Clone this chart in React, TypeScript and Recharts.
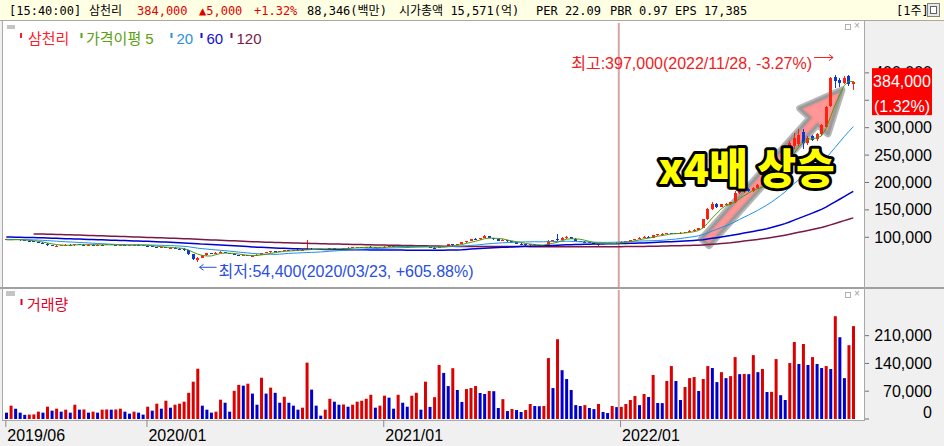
import React from 'react';
import { ComposedChart, Bar, Line, XAxis, YAxis, ReferenceLine, ReferenceDot, Cell } from 'recharts';

// ---------- data (prices in 천원, volume in 천주) ----------
const PRIOR_CLOSE = [
  108, 109, 110, 111, 112, 111, 113, 114, 115, 116,
  117, 118, 117, 119, 120, 121, 120, 119, 121, 122,
  121, 120, 119, 118, 117, 118, 116, 115, 116, 114,
  113, 114, 112, 113, 111, 112, 110, 111, 113, 112,
  114, 113, 112, 110, 111, 109, 110, 108, 109, 107,
  108, 106, 107, 105, 105, 104, 106, 105, 104, 103,
  105, 104, 103, 104, 103, 102, 104, 103, 102, 101,
  103, 102, 104, 103, 102, 103, 101, 102, 103, 104,
  102, 101, 102, 103, 102, 101, 103, 102, 100, 101,
  102, 100, 101, 99, 98, 99, 97, 98, 97, 96,
  98, 97, 96, 95, 96, 97, 95, 96, 95, 96,
  94, 95, 96,
];

const OPEN = [
  95.0, 96.0, 95.0, 96.0, 94.5, 94.0, 93.0, 91.5, 90.0, 88.5,
  85.5, 84.0, 84.5, 85.5, 86.5, 85.5, 88.0, 86.5, 86.0, 86.5,
  85.5, 86.5, 86.0, 87.0, 86.0, 85.5, 86.5, 85.5, 86.0, 86.5,
  85.5, 85.0, 84.0, 82.5, 81.5, 82.0, 80.5, 81.0, 79.5, 79.0,
  76.5, 69.5, 59.0, 62.5, 67.0, 71.0, 69.5, 71.5, 73.0, 71.0,
  69.5, 67.5, 66.0, 67.5, 65.5, 66.5, 68.5, 71.0, 72.5, 74.5,
  73.0, 75.0, 76.5, 75.5, 77.0, 76.5, 77.5, 79.0, 78.0, 78.5,
  79.0, 78.0, 80.0, 79.0, 78.5, 80.0, 81.0, 81.5, 82.5, 81.5,
  82.5, 81.5, 81.0, 82.0, 83.0, 84.0, 83.0, 84.0, 83.0, 82.5,
  83.5, 84.5, 83.5, 82.5, 81.0, 80.5, 84.0, 82.5, 87.0, 86.0,
  87.5, 90.5, 93.0, 96.5, 96.0, 98.5, 102.5, 99.0, 96.0, 93.5,
  95.0, 92.5, 90.5, 88.5, 87.0, 85.5, 87.0, 86.0, 85.0, 86.5,
  93.5, 96.0, 95.0, 99.5, 100.0, 97.5, 93.5, 92.0, 90.5, 89.5,
  87.0, 88.0, 89.0, 88.0, 89.5, 90.0, 92.0, 93.5, 95.0, 97.0,
  99.5, 101.0, 99.5, 104.0, 105.5, 106.0, 107.5, 107.0, 106.5, 108.5,
  110.0, 112.0, 114.0, 117.0, 133.0, 151.0, 161.0, 156.0, 159.0, 160.0,
  164.0, 181.0, 185.0, 188.0, 184.5, 189.5, 195.0, 201.0, 204.0, 215.0,
  229.0, 232.0, 252.0, 266.0, 270.0, 292.0, 272.0, 285.0, 280.0, 288.0,
  302.0, 340.0, 392.0, 387.0, 381.0, 394.0, 380.0,
];

const HIGH = [
  96.5, 97.0, 96.5, 96.5, 95.0, 94.5, 93.5, 92.0, 90.5, 89.0,
  86.5, 85.5, 86.0, 87.0, 87.0, 88.5, 88.5, 87.0, 87.0, 87.0,
  87.0, 87.0, 87.5, 87.5, 86.5, 87.0, 87.0, 86.5, 87.0, 87.0,
  86.0, 85.5, 84.5, 83.0, 82.5, 82.5, 81.5, 81.5, 80.5, 80.0,
  77.0, 70.0, 63.5, 68.0, 72.0, 72.0, 72.5, 74.5, 73.5, 71.5,
  70.0, 68.0, 68.5, 68.0, 67.0, 69.0, 72.0, 73.0, 75.0, 75.0,
  75.5, 77.0, 77.0, 77.5, 78.0, 78.0, 95.0, 80.0, 79.0, 79.5,
  79.5, 80.5, 80.5, 79.5, 80.5, 81.5, 82.0, 83.0, 83.0, 83.0,
  83.5, 82.0, 82.5, 83.5, 84.5, 84.5, 84.5, 84.5, 83.5, 84.0,
  85.0, 85.0, 84.0, 83.0, 82.5, 84.5, 85.0, 87.5, 88.5, 88.0,
  91.0, 93.5, 97.0, 99.5, 99.0, 104.0, 103.0, 99.5, 96.5, 96.0,
  95.5, 93.0, 91.0, 89.0, 88.0, 87.5, 87.5, 86.5, 86.5, 95.0,
  95.5, 106.5, 100.5, 103.0, 101.0, 98.0, 94.0, 92.5, 91.0, 90.0,
  88.5, 89.5, 89.5, 90.0, 90.5, 92.5, 94.0, 95.5, 97.5, 100.0,
  101.5, 102.5, 104.5, 106.0, 107.0, 108.0, 108.5, 108.0, 109.0, 110.5,
  112.5, 114.5, 117.5, 134.0, 153.0, 165.0, 163.0, 161.0, 162.0, 164.0,
  184.0, 188.0, 190.0, 190.0, 192.0, 197.0, 204.0, 208.0, 217.0, 232.0,
  236.0, 252.0, 276.0, 291.0, 298.0, 298.0, 284.0, 287.0, 290.0, 307.0,
  340.0, 393.0, 397.0, 390.0, 394.0, 396.0, 386.0,
];

const LOW = [
  94.5, 94.5, 94.5, 94.0, 93.5, 92.5, 91.0, 89.5, 88.0, 84.5,
  84.0, 83.5, 84.0, 85.0, 85.0, 85.0, 86.0, 85.5, 85.5, 85.0,
  85.0, 85.5, 85.5, 85.5, 85.0, 85.0, 85.0, 85.0, 85.5, 85.0,
  84.5, 83.5, 82.0, 81.0, 80.5, 80.0, 79.5, 79.0, 78.0, 75.5,
  68.0, 58.0, 54.4, 61.5, 66.5, 69.0, 69.0, 71.0, 70.5, 69.0,
  67.0, 65.0, 65.5, 65.0, 64.5, 66.0, 68.0, 70.5, 72.0, 72.5,
  72.5, 74.5, 75.0, 75.0, 76.0, 76.0, 77.0, 77.5, 77.0, 78.0,
  77.5, 77.5, 78.5, 78.0, 78.0, 79.5, 80.5, 81.0, 81.0, 81.0,
  81.0, 80.5, 80.5, 81.5, 82.5, 82.5, 82.5, 82.5, 82.0, 82.0,
  83.0, 83.0, 82.0, 80.5, 80.0, 80.0, 82.0, 82.0, 85.0, 85.5,
  87.0, 90.0, 92.5, 95.0, 95.5, 98.0, 98.5, 95.5, 93.0, 93.0,
  92.0, 90.0, 88.0, 86.5, 85.0, 85.0, 85.5, 84.5, 84.5, 86.0,
  92.0, 94.0, 94.5, 97.0, 97.0, 93.0, 91.5, 90.0, 89.0, 87.0,
  84.5, 87.0, 87.5, 87.5, 89.0, 89.5, 91.5, 93.0, 94.5, 96.5,
  98.5, 99.0, 99.0, 103.0, 104.5, 105.5, 106.0, 105.5, 106.0, 108.0,
  109.5, 111.0, 113.5, 116.5, 132.0, 150.0, 154.0, 155.0, 157.0, 158.5,
  163.0, 179.0, 181.0, 182.0, 183.0, 188.0, 193.0, 197.0, 203.0, 214.0,
  222.0, 230.0, 250.0, 262.0, 266.0, 262.0, 268.0, 276.0, 276.0, 285.0,
  300.0, 337.0, 372.0, 374.0, 379.0, 376.0, 369.0,
];

const CLOSE = [
  96.0, 95.0, 96.0, 94.5, 94.0, 93.0, 91.5, 90.0, 88.5, 85.5,
  85.0, 85.0, 85.5, 86.5, 85.5, 88.0, 86.5, 86.0, 86.5, 85.5,
  86.5, 86.0, 87.0, 86.0, 85.5, 86.5, 85.5, 86.0, 86.5, 85.5,
  85.0, 84.0, 82.5, 81.5, 82.0, 80.5, 81.0, 79.5, 79.0, 76.5,
  69.5, 59.5, 62.5, 67.0, 71.0, 69.5, 71.5, 73.0, 71.0, 69.5,
  67.5, 66.0, 67.5, 65.5, 66.5, 68.5, 71.0, 72.5, 74.5, 73.0,
  75.0, 76.5, 75.5, 77.0, 76.5, 77.5, 79.0, 78.0, 78.5, 79.0,
  78.0, 80.0, 79.0, 78.5, 80.0, 81.0, 81.5, 82.5, 81.5, 82.5,
  81.5, 81.0, 82.0, 83.0, 84.0, 83.0, 84.0, 83.0, 82.5, 83.5,
  84.5, 83.5, 82.5, 81.0, 80.5, 84.0, 82.5, 87.0, 86.0, 87.5,
  90.5, 93.0, 96.5, 96.0, 98.5, 102.5, 99.0, 96.0, 93.5, 95.0,
  92.5, 90.5, 88.5, 87.0, 85.5, 87.0, 86.0, 85.0, 86.0, 93.5,
  94.5, 95.0, 99.5, 100.0, 97.5, 93.5, 92.0, 90.5, 89.5, 87.5,
  88.0, 89.0, 88.0, 89.5, 90.0, 92.0, 93.5, 95.0, 97.0, 99.5,
  100.5, 99.5, 104.0, 105.5, 106.5, 107.5, 107.0, 106.5, 108.5, 110.0,
  112.0, 114.0, 117.0, 133.0, 151.0, 160.0, 156.0, 160.0, 161.0, 163.5,
  181.0, 186.0, 187.5, 184.5, 189.5, 195.0, 201.0, 204.0, 215.0, 229.0,
  232.0, 249.0, 272.0, 282.0, 287.0, 272.0, 281.0, 278.0, 288.0, 305.0,
  338.0, 390.0, 385.0, 381.0, 390.0, 379.0, 384.0,
];

const VOLUME = [
  16, 33.6, 26, 16, 10.5, 11.2, 11.6, 18.5, 16, 31,
  21, 26, 18.5, 23.5, 16, 36, 23.5, 24, 16, 18.5,
  16, 23.5, 24, 23.5, 24, 26, 18.5, 13.4, 18.5, 16,
  11, 31, 21, 38.6, 26, 46, 28.5, 36, 38.6, 43.6,
  66, 94, 126.7, 33.6, 23.5, 16, 18.5, 48.7, 41, 18.5,
  71, 86, 84, 89, 64, 36, 104, 64, 79, 66,
  41, 56, 41, 33.6, 23.5, 28.5, 142, 74, 33.6, 8.4,
  23.5, 51, 43.6, 36, 36.5, 31, 36, 43.6, 46, 51,
  61, 28.5, 33.6, 58.7, 53.7, 26, 61, 41, 31, 58.7,
  66, 23.5, 94, 30.5, 55, 136, 116, 83, 128, 73,
  43, 75.5, 78, 83, 65.5, 63, 70.5, 70, 27.7, 50,
  20, 25, 22.6, 17.6, 22.6, 37.8, 32.7, 32.2, 32.7, 153.5,
  78, 201, 123, 100.7, 73, 35, 32.7, 35, 27.7, 25,
  37.8, 17.6, 15, 32.7, 30, 30.5, 37.8, 47.8, 58, 35,
  63, 55.4, 110.8, 40.3, 40, 95.7, 133.4, 95.7, 47.8, 80.6,
  103, 105.7, 70.5, 100.7, 133.4, 128.4, 93, 118, 103, 108,
  156, 113, 113.5, 113, 161, 118, 126, 68, 68.5, 151,
  60, 47.8, 141, 194, 138.5, 189, 136, 156, 138.5, 128.4,
  133.4, 126, 259, 206, 103, 186, 234,
];

const PRICE_UNIT = 1000;
const VOLUME_UNIT = 1000;

const X_TICK_INDEX = [0, 31, 83, 135];
const X_TICK_LABEL = ['2019/06', '2020/01', '2021/01', '2022/01'];
const PRICE_TICKS = [100000, 150000, 200000, 250000, 300000, 350000, 400000];
const VOLUME_TICKS = [0, 70000, 140000, 210000];
const MA_PERIODS = [5, 20, 60, 120];
const HIGH_DATE = '2022/11/28';
const LOW_DATE = '2020/03/23';
const STOCK_NAME = '삼천리';
const CURSOR_INDEX = 134.5;
const ARROW_FROM = { x: 153.5, y: 91000 };
const ARROW_TO = { x: 183.5, y: 369000 };
const NOTE_TEXT = 'x4배 상승';
const NOTE_AT = { x: 143, y: 197000 };

// ---------- styles ----------
const FONT = "'Liberation Sans', Arial, 'Noto Sans CJK KR', sans-serif";
const MONO = "'DejaVu Sans Mono', 'Noto Sans CJK KR', monospace";
const CANDLE_UP = '#FF2010';
const CANDLE_DOWN = '#0A38D0';
const VOL_UP = '#DD0000';
const VOL_DOWN = '#0000CC';
const MA_COLORS = ['#4E9A06', '#1E8FE8', '#0000D0', '#7A1848'];
const MA_WIDTHS = [1, 1, 1.5, 1.5];
const LEGEND = [
  { name: STOCK_NAME, color: '#FF1A2A', mx: 20, tx: 28 },
  { name: '가격이평 5', color: '#5AA010', mx: 80.5, tx: 86 },
  { name: '20', color: '#2A90E0', mx: 170.5, tx: 176.5 },
  { name: '60', color: '#1010D0', mx: 200.5, tx: 206.5 },
  { name: '120', color: '#7A1848', mx: 230.5, tx: 236.5 },
];
const X_DOMAIN: [number, number] = [-0.725, 188.35];
const PRICE_DOMAIN: [number, number] = [9300, 491000];
const VOLUME_DOMAIN: [number, number] = [0, 325000];

// ---------- derived rows ----------
const allClose = PRIOR_CLOSE.concat(CLOSE);
function movingAverage(period: number, idx: number): number | null {
  const end = PRIOR_CLOSE.length + idx;
  const start = end - period + 1;
  if (start < 0) return null;
  let s = 0;
  for (let k = start; k <= end; k++) s += allClose[k];
  return (s / period) * PRICE_UNIT;
}

const data = CLOSE.map((c, i) => {
  const row: any = {
    i,
    open: OPEN[i] * PRICE_UNIT,
    high: HIGH[i] * PRICE_UNIT,
    low: LOW[i] * PRICE_UNIT,
    close: c * PRICE_UNIT,
    vol: VOLUME[i] * VOLUME_UNIT,
    volUp: i > 0 && VOLUME[i] > VOLUME[i - 1],
  };
  row.range = [row.low, row.high];
  MA_PERIODS.forEach((p) => {
    row['ma' + p] = movingAverage(p, i);
  });
  return row;
});

let hiIdx = 0;
let loIdx = 0;
HIGH.forEach((h, i) => { if (h > HIGH[hiIdx]) hiIdx = i; });
LOW.forEach((l, i) => { if (l < LOW[loIdx]) loIdx = i; });
const last = data[data.length - 1];
const prev = data[data.length - 2];
const lastClose = last.close;
const change = lastClose - prev.close;
const changePct = (change / prev.close) * 100;
const maxHigh = HIGH[hiIdx] * PRICE_UNIT;
const minLow = LOW[loIdx] * PRICE_UNIT;
const fmt = (v: number) => Math.round(v).toLocaleString('en-US');
const signed = (v: number) => (v >= 0 ? '+' : '-') + Math.abs(v).toFixed(2) + '%';
const HIGH_TEXT = `최고:${fmt(maxHigh)}(${HIGH_DATE}, ${signed((lastClose / maxHigh - 1) * 100)})`;
const LOW_TEXT = `최저:${fmt(minLow)}(${LOW_DATE}, ${signed((lastClose / minLow - 1) * 100)})`;

// tag covers the axis labels in this band (as in the terminal's display)
const TAG_BAND: [number, number] = [lastClose - 60000, lastClose + 12000];

// ---------- shapes ----------
const Candle = (props: any) => {
  const { x, y, width, height } = props;
  const d = props.payload || props;
  if (d == null || d.high == null) return null;
  const top = Math.min(y, y + height);
  const h = Math.abs(height);
  const span = d.high - d.low;
  const toY = (v: number) => (span > 0 ? top + ((d.high - v) / span) * h : top);
  const color = d.close >= d.open ? CANDLE_UP : CANDLE_DOWN;
  const cx = x + width / 2;
  const left = Math.round(cx - 1.5);
  const bTop = Math.round(toY(Math.max(d.open, d.close)));
  const bBot = Math.round(toY(Math.min(d.open, d.close)));
  return (
    <g>
      <line x1={left + 1.5} x2={left + 1.5} y1={Math.round(top)} y2={Math.round(top + Math.max(h, 1))} stroke={color} strokeWidth={1} />
      <rect x={left} y={bTop} width={3} height={Math.max(1, bBot - bTop)} fill={color} />
    </g>
  );
};

const PriceTick = (props: any) => {
  const { x, y, payload } = props;
  const hidden = payload.value > TAG_BAND[0] && payload.value < TAG_BAND[1];
  return (
    <g>
      <line x1={x + 1} x2={x + 5} y1={y} y2={y} stroke="#707070" />
      {hidden ? null : (
        <text x={x + 68} y={y + 5.5} textAnchor="end" fontSize={16} fontFamily={FONT} fill="#000">{fmt(payload.value)}</text>
      )}
    </g>
  );
};

const VolumeTick = (props: any) => {
  const { x, y, payload } = props;
  const dy = payload.value === 0 ? -7 : 0;
  return (
    <g>
      <line x1={x + 1} x2={x + 5} y1={y} y2={y} stroke="#707070" />
      <text x={x + 68} y={y + 5.5 + dy} textAnchor="end" fontSize={16} fontFamily={FONT} fill="#000">{fmt(payload.value)}</text>
    </g>
  );
};

const DateTick = (props: any) => {
  const { x, y, payload } = props;
  const k = X_TICK_INDEX.indexOf(payload.value);
  return (
    <g>
      <line x1={x - 0.5} x2={x - 0.5} y1={y + 1} y2={y + 8} stroke="#8A8A8A" />
      <text x={x + 1} y={y + 22} textAnchor="start" fontSize={16} fontFamily={FONT} fill="#000">{k >= 0 ? X_TICK_LABEL[k] : ''}</text>
    </g>
  );
};

const HighMarker = (p: any) => {
  const { cx, cy } = p;
  const c = '#EE2222';
  return (
    <g>
      <text x={cx - 23} y={cy - 5.5} textAnchor="end" fill={c} fontSize={16} fontFamily={FONT}>{HIGH_TEXT}</text>
      <line x1={cx - 21} y1={cy - 17} x2={cx - 2} y2={cy - 17} stroke={c} strokeWidth={1} />
      <polyline points={`${cx - 6},${cy - 20} ${cx - 2},${cy - 17} ${cx - 6},${cy - 14}`} fill="none" stroke={c} strokeWidth={1} />
    </g>
  );
};

const LowMarker = (p: any) => {
  const { cx, cy } = p;
  const c = '#2A4FE0';
  return (
    <g>
      <line x1={cx + 2} y1={cy + 5} x2={cx + 19} y2={cy + 5} stroke={c} strokeWidth={1} />
      <polyline points={`${cx + 6},${cy + 2} ${cx + 2},${cy + 5} ${cx + 6},${cy + 8}`} fill="none" stroke={c} strokeWidth={1} />
      <text x={cx + 21} y={cy + 15} textAnchor="start" fill={c} fontSize={16} fontFamily={FONT}>{LOW_TEXT}</text>
    </g>
  );
};

const NoteText = (p: any) => {
  const { cx, cy } = p;
  return (
    <text x={cx + 1} y={cy} fontSize={42} fontWeight={900} fontFamily="'Noto Sans CJK KR', sans-serif"
      fill="#FFFF00" stroke="#000" strokeWidth={6} strokeLinejoin="round" paintOrder="stroke">{NOTE_TEXT}</text>
  );
};

const BigArrow = (p: any) => {
  const a = { x: p.x1, y: p.y1 };
  const b = { x: p.x2, y: p.y2 };
  if ([a.x, a.y, b.x, b.y].some((v) => v == null || isNaN(v))) return null;
  const tip = a.y < b.y ? a : b;
  const tail = a.y < b.y ? b : a;
  const dx = tip.x - tail.x;
  const dy = tip.y - tail.y;
  const L = Math.sqrt(dx * dx + dy * dy);
  const ux = dx / L, uy = dy / L;
  const nx = -uy, ny = ux;
  const H = 42, W = 19, w = 5;
  const bx = tip.x - ux * H, by = tip.y - uy * H;
  const pts = [
    [tail.x + nx * w, tail.y + ny * w],
    [bx + nx * w, by + ny * w],
    [bx + nx * W, by + ny * W],
    [tip.x, tip.y],
    [bx - nx * W, by - ny * W],
    [bx - nx * w, by - ny * w],
    [tail.x - nx * w, tail.y - ny * w],
  ].map((q) => q.join(',')).join(' ');
  return (
    <g>
      <polygon points={pts} fill="none" stroke="#7A7A7A" strokeOpacity={0.55} strokeWidth={7} strokeLinejoin="round" />
      <polygon points={pts} fill="#FF8C8C" fillOpacity={0.9} stroke="#9A9A9A" strokeWidth={3} strokeLinejoin="round" />
    </g>
  );
};

const PriceTag = (p: any) => {
  const xr = Math.max(p.x1, p.x2);
  const y = p.y1;
  if (y == null || isNaN(y)) return null;
  return (
    <g>
      <rect x={xr + 8} y={y - 13.5} width={60} height={47} fill="#FF0000" />
      <text x={xr + 38} y={y + 5.5} textAnchor="middle" fontSize={16} fontFamily={FONT} fill="#fff">{fmt(lastClose)}</text>
      <text x={xr + 38} y={y + 30.5} textAnchor="middle" fontSize={16} fontFamily={FONT} fill="#fff">{`(${changePct.toFixed(2)}%)`}</text>
    </g>
  );
};

const HEADER_ITEMS = [
  { x: 9, text: '[15:40:00]', red: false },
  { x: 89, text: STOCK_NAME, red: false },
  { x: 137, text: fmt(lastClose), red: true },
  { x: 199, text: '▲' + fmt(change), red: true },
  { x: 254, text: '+' + changePct.toFixed(2) + '%', red: true },
  { x: 307, text: '88,346(백만)', red: false },
  { x: 399, text: '시가총액 15,571(억)', red: false },
  { x: 536, text: 'PER 22.09', red: false },
  { x: 610, text: 'PBR 0.97', red: false },
  { x: 675, text: 'EPS 17,385', red: false },
  { x: 896, text: '[1주]', red: false },
];

const abs = (l: number, t: number, w: number, h: number, extra: any = {}) => ({
  position: 'absolute' as const, left: l, top: t, width: w, height: h, ...extra,
});

const PanelIcons = ({ top }: { top: number }) => (
  <>
    <div style={abs(845, top, 6, 6, { border: '1px solid #B0B0B0', boxSizing: 'border-box', background: '#fff' })} />
    <div style={abs(854, top - 3, 8, 10, { fontSize: 10, lineHeight: '10px', color: '#A0A0A0', fontFamily: FONT })}>×</div>
  </>
);

export default function App() {
  return (
    <div style={{ position: 'absolute', left: 0, top: 0, width: 944, height: 446, background: '#F0F0F0', overflow: 'hidden', fontFamily: FONT }}>
      {/* header */}
      <div style={abs(0, 0, 944, 21, { background: '#FFFFE4', borderBottom: '1px solid #A8A8A8', boxSizing: 'border-box' })} />
      {HEADER_ITEMS.map((h, k) => (
        <div key={k} style={abs(h.x, 4, 200, 14, { fontFamily: MONO, fontSize: 12, lineHeight: '14px', color: h.red ? '#E00000' : '#000', whiteSpace: 'pre' })}>{h.text}</div>
      ))}
      <div style={abs(927, 3, 13, 14, { border: '1px solid #808080', boxSizing: 'border-box', background: '#E8E8E8' })} />
      <div style={abs(930, 6, 7, 8, { border: '1px solid #606060', boxSizing: 'border-box', background: '#fff' })} />

      {/* panels */}
      <div style={abs(3, 21, 861, 266, { background: '#fff' })} />
      <div style={abs(3, 289, 861, 131, { background: '#fff' })} />
      <div style={abs(0, 287, 944, 2, { background: '#A0A0A0' })} />
      <div style={abs(864, 21, 1, 399, { background: '#A8A8A8' })} />
      <div style={abs(2, 21, 1, 400, { background: '#A8A8A8' })} />
      <div style={abs(2, 420, 863, 1, { background: '#A8A8A8' })} />
      <div style={abs(7, 25, 8, 4, { background: '#C4C4C4' })} />
      <div style={abs(6, 291, 9, 5, { background: '#C4C4C4' })} />
      <PanelIcons top={24} />
      <PanelIcons top={292} />

      {/* price chart */}
      <div style={abs(0, 22, 944, 266)}>
        <ComposedChart width={944} height={266} data={data} margin={{ top: 1, right: 0, bottom: 1, left: 3 }}>
          <XAxis dataKey="i" type="number" domain={X_DOMAIN} allowDataOverflow hide />
          <YAxis orientation="right" width={80} type="number" domain={PRICE_DOMAIN} allowDataOverflow ticks={PRICE_TICKS}
            interval={0} tick={<PriceTick />} tickSize={0} tickMargin={0} tickLine={false} axisLine={false} />
          <ReferenceLine x={CURSOR_INDEX} stroke="#D8A4A4" strokeWidth={2} />
          <ReferenceLine segment={[ARROW_FROM, ARROW_TO]} ifOverflow="visible" shape={(p: any) => <BigArrow {...p} />} zIndex={250} />
          {MA_PERIODS.slice().reverse().map((p, k) => {
            const idx = MA_PERIODS.length - 1 - k;
            return (
              <Line key={p} dataKey={'ma' + p} type="linear" stroke={MA_COLORS[idx]} strokeWidth={MA_WIDTHS[idx]}
                dot={false} activeDot={false} isAnimationActive={false} connectNulls={false} />
            );
          })}
          <Bar dataKey="range" barSize={3} isAnimationActive={false} shape={(p: any) => <Candle {...p} />} />
          <ReferenceDot x={hiIdx} y={maxHigh} r={0} ifOverflow="visible" shape={(p: any) => <HighMarker {...p} />} zIndex={2100} />
          <ReferenceDot x={loIdx} y={minLow} r={0} ifOverflow="visible" shape={(p: any) => <LowMarker {...p} />} zIndex={2100} />
          <ReferenceDot x={NOTE_AT.x} y={NOTE_AT.y} r={0} ifOverflow="visible" shape={(p: any) => <NoteText {...p} />} zIndex={2200} />
          <ReferenceLine y={lastClose} stroke="none" ifOverflow="visible" shape={(p: any) => <PriceTag {...p} />} zIndex={2300} />
        </ComposedChart>
      </div>

      {/* legend of price panel */}
      <svg style={abs(0, 22, 300, 30, { overflow: 'visible' })} width={300} height={30}>
        {LEGEND.map((l, k) => (
          <g key={k}>
            <rect x={l.mx} y={11} width={2} height={5} fill={l.color} />
            <text x={l.tx} y={22} fontSize={15} fontFamily={FONT} fill={l.color}>{l.name}</text>
          </g>
        ))}
      </svg>

      {/* volume chart */}
      <div style={abs(0, 289, 944, 157)}>
        <ComposedChart width={944} height={157} data={data} margin={{ top: 1, right: 0, bottom: 0, left: 3 }}>
          <XAxis dataKey="i" type="number" domain={X_DOMAIN} allowDataOverflow ticks={X_TICK_INDEX} interval={0}
            height={27} tick={<DateTick />} tickSize={0} tickMargin={0} tickLine={false} axisLine={false} />
          <YAxis orientation="right" width={80} type="number" domain={VOLUME_DOMAIN} allowDataOverflow ticks={VOLUME_TICKS}
            interval={0} tick={<VolumeTick />} tickSize={0} tickMargin={0} tickLine={false} axisLine={false} />
          <ReferenceLine x={CURSOR_INDEX} stroke="#D8A4A4" strokeWidth={2} />
          <Bar dataKey="vol" barSize={3} isAnimationActive={false}>
            {data.map((d, k) => (
              <Cell key={k} fill={d.volUp ? VOL_UP : VOL_DOWN} />
            ))}
          </Bar>
        </ComposedChart>
      </div>
      <svg style={abs(0, 289, 100, 30, { overflow: 'visible' })} width={100} height={30}>
        <rect x={20.5} y={10} width={2} height={6} fill="#E0002A" />
        <text x={27} y={21} fontSize={15} fontFamily={FONT} fill="#E0002A">거래량</text>
      </svg>
    </div>
  );
}
